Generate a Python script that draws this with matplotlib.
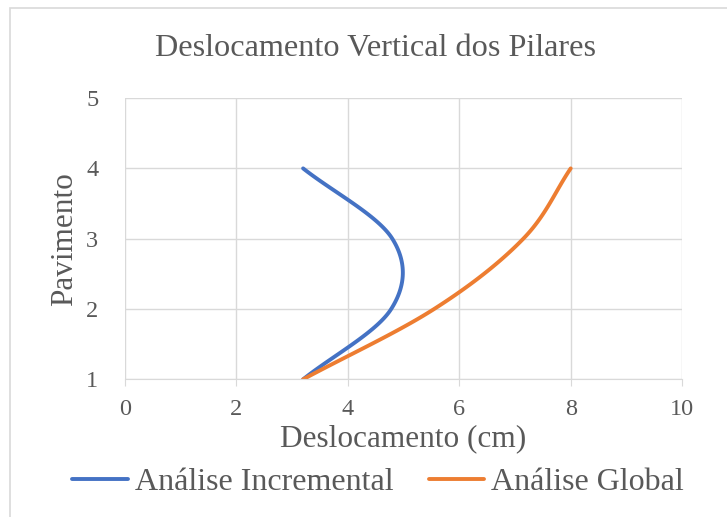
import numpy as np
import matplotlib
matplotlib.use("Agg")
import matplotlib.pyplot as plt
from matplotlib.patches import Rectangle

plt.rcParams["font.family"] = ["Liberation Serif", "DejaVu Serif"]

pavimento = [1, 2, 3, 4]
incremental = [3.2, 4.78, 4.8, 3.2]
glob = [3.2, 5.55, 7.15, 8.0]

TXT = "#595959"
GRID = "#D9D9D9"


def smooth(x, y, n=40):
    # catmull-rom por ponto (parecido com a "linha suavizada" do Excel)
    x = np.asarray(x, float)
    y = np.asarray(y, float)
    k = len(x)
    mx = np.zeros(k)
    my = np.zeros(k)
    for i in range(k):
        a = max(i - 1, 0)
        b = min(i + 1, k - 1)
        mx[i] = (x[b] - x[a]) / (b - a)
        my[i] = (y[b] - y[a]) / (b - a)
    xs, ys = [], []
    t = np.linspace(0, 1, n)
    h00 = 2 * t**3 - 3 * t**2 + 1
    h10 = t**3 - 2 * t**2 + t
    h01 = -2 * t**3 + 3 * t**2
    h11 = t**3 - t**2
    for i in range(k - 1):
        xs.append(h00 * x[i] + h10 * mx[i] + h01 * x[i + 1] + h11 * mx[i + 1])
        ys.append(h00 * y[i] + h10 * my[i] + h01 * y[i + 1] + h11 * my[i + 1])
    return np.concatenate(xs), np.concatenate(ys)


fig = plt.figure(figsize=(7.27, 5.17), dpi=100)
fig.patches.append(Rectangle((10 / 727, -0.01), 1.0, 1 - 8 / 517 + 0.01,
                             transform=fig.transFigure, fill=False,
                             edgecolor=GRID, linewidth=1.2))

ax = fig.add_axes([0.1715, 0.2663, 0.7669, 0.544])

xi, yi = smooth(incremental, pavimento)
xg, yg = smooth(glob, pavimento)
ax.plot(xi, yi, color="#4472C4", lw=2.8, solid_capstyle="round", label="Análise Incremental")
ax.plot(xg, yg, color="#ED7D31", lw=2.8, solid_capstyle="round", label="Análise Global")

ax.set_xlim(0, 10)
ax.set_ylim(1, 5)
ax.set_xticks(range(0, 11, 2))
ax.set_yticks(range(1, 6))
ax.grid(True, color=GRID, lw=1)
ax.set_axisbelow(True)
for s in ["top", "right", "left"]:
    ax.spines[s].set_visible(False)
ax.spines["bottom"].set_color(GRID)
ax.tick_params(axis="x", colors=TXT, labelsize=17.5, length=5, color=GRID, pad=9)
ax.tick_params(axis="y", colors=TXT, labelsize=17.5, length=0, pad=19)

ax.set_xlabel("Deslocamento (cm)", fontsize=22.5, color=TXT, labelpad=3)
ax.set_ylabel("Pavimento", fontsize=22.5, color=TXT, labelpad=5)
fig.text(0.517, 1 - 49 / 517, "Deslocamento Vertical dos Pilares", fontsize=23.2,
         color=TXT, ha="center", va="center")

leg = fig.legend(loc="center", bbox_to_anchor=(0.52, 1 - 482 / 517), ncol=2,
                 frameon=False, fontsize=23, handlelength=1.75, handletextpad=0.2,
                 columnspacing=1.1, borderaxespad=0)
for t in leg.get_texts():
    t.set_color(TXT)

fig.savefig("out.png", dpi=100)
